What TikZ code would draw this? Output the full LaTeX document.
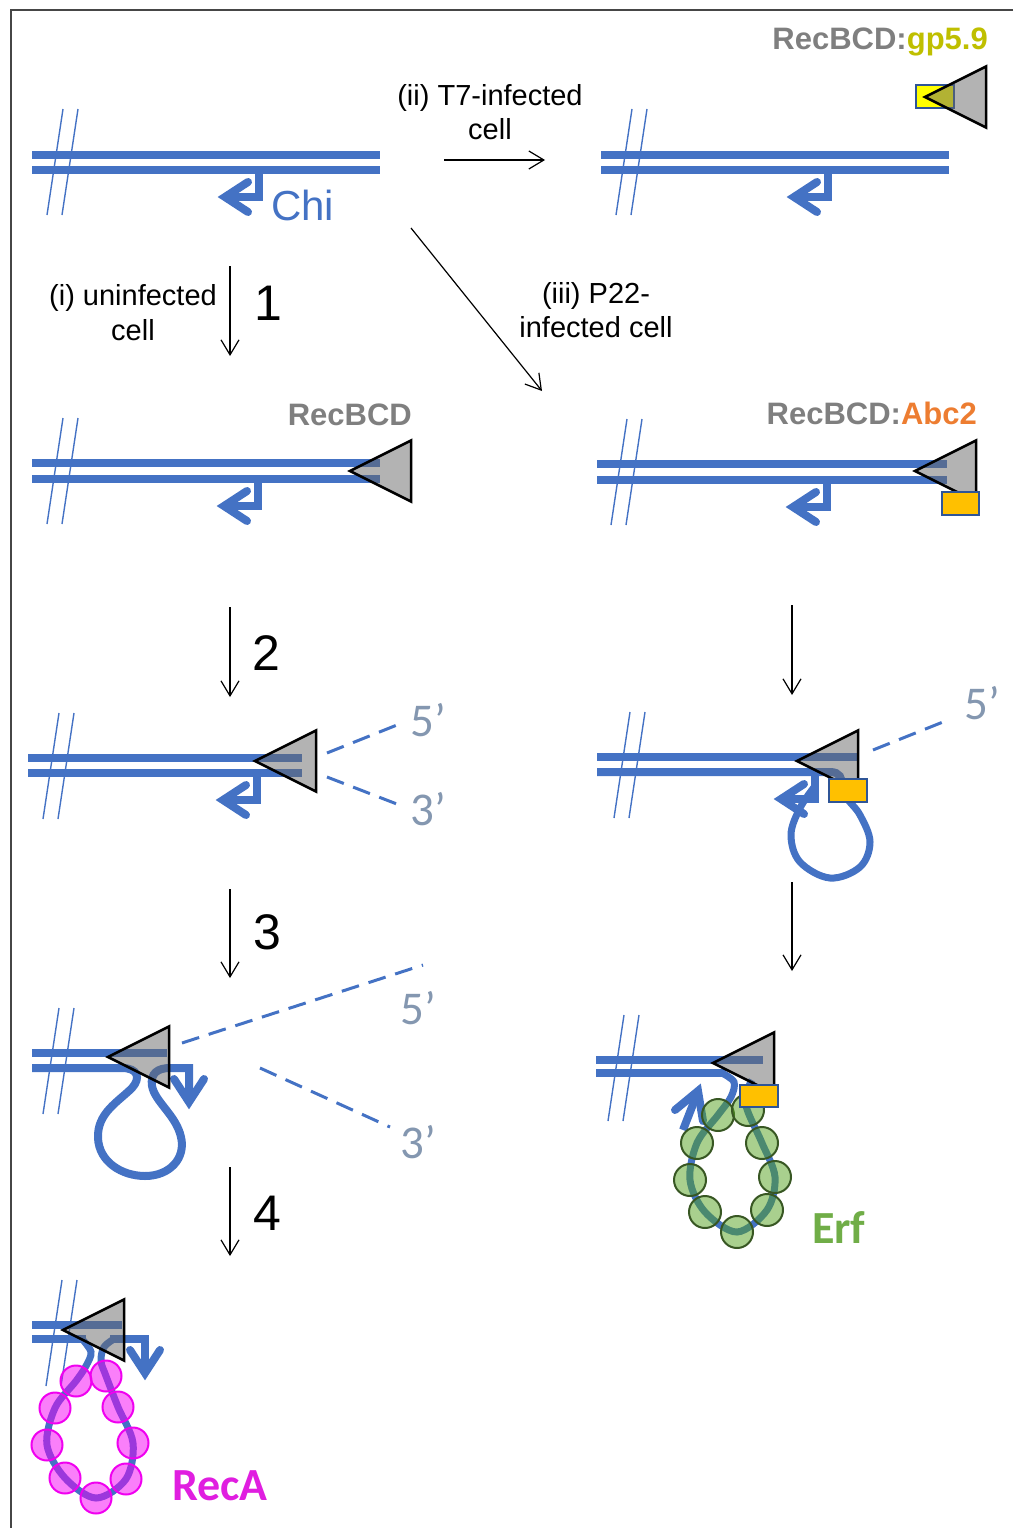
\documentclass[tikz,border=0pt]{standalone}
\usepackage{fontspec}
\setmainfont{Liberation Sans}
\newfontfamily\carlitofont{Carlito}
\usetikzlibrary{arrows.meta}
\definecolor{dnablue}{RGB}{68,114,196}
\definecolor{enzgray}{RGB}{103,103,103}
\definecolor{recgray}{RGB}{127,127,127}
\definecolor{gpolive}{RGB}{191,191,0}
\definecolor{abcorange}{RGB}{237,125,49}
\definecolor{endgray}{RGB}{132,151,176}
\definecolor{boxblue}{RGB}{47,85,151}
\definecolor{abcyellow}{RGB}{255,192,0}
\definecolor{gpyellow}{RGB}{255,255,0}
\definecolor{erffill}{RGB}{83,161,29}
\definecolor{erfedge}{RGB}{56,87,35}
\definecolor{erftext}{RGB}{112,173,71}
\definecolor{recafill}{RGB}{245,0,245}
\definecolor{recaedge}{RGB}{240,0,240}
\definecolor{recatext}{RGB}{224,30,224}
\definecolor{framegray}{RGB}{70,70,70}
\tikzset{
  strand/.style={draw=dnablue, line width=8pt},
  loopline/.style={draw=dnablue, line width=7pt},
  cutline/.style={draw=dnablue, line width=1.4pt},
  chiline/.style={draw=dnablue, line width=8pt, line join=miter},
  chihead/.style={chiline, line cap=round},
  enzyme/.style={draw=black, line width=2.5pt, fill=enzgray, fill opacity=0.5, line join=miter},
  abcbox/.style={draw=boxblue, fill=abcyellow, line width=2pt},
  gpbox/.style={draw=boxblue, fill=gpyellow, line width=2pt},
  flow/.style={draw=black, line width=1.2pt, -{Straight Barb[length=15pt,width=18pt]}},
  endline/.style={draw=dnablue, line width=3pt, dash pattern=on 18pt off 10pt},
  endlbl/.style={font=\carlitofont\fontsize{47}{47}\selectfont, text=endgray, inner sep=0pt},
  steplbl/.style={font=\fontsize{29}{34}\selectfont, inner sep=0pt, anchor=base},
  numlbl/.style={font=\fontsize{50}{50}\selectfont, inner sep=0pt, anchor=base},
  enzlbl/.style={font=\bfseries\fontsize{31}{31}\selectfont, text=recgray, inner sep=0pt, anchor=base east},
  erfball/.style={circle, minimum size=32pt, inner sep=0pt, draw=erfedge, line width=2pt, fill=erffill, fill opacity=0.5},
  recaball/.style={circle, minimum size=31pt, inner sep=0pt, draw=recaedge, line width=2pt, fill=recafill, fill opacity=0.5},
  cutmark/.pic={\draw[cutline] (0,0) -- (-16,106) (15,0) -- (-1,106);},
  chileft/.pic={\draw[chiline] (0,0) -- (0,27) -- (-33,27);
                \draw[chihead] (-11,12) -- (-34,27) -- (-11,42);},
  chidownhead/.pic={\draw[chihead] (-15,11) -- (0,34) -- (15,11);},
  recbcd/.pic={\draw[enzyme] (0,0) -- (61,-30.5) -- (61,30.5) -- cycle;},
}
\begin{document}
\begin{tikzpicture}[x=1pt,y=-1pt]
\useasboundingbox (0,0) rectangle (1013,1528);

% frame
\draw[draw=framegray, line width=1.5pt, line join=miter] (1013,10) -- (11,10) -- (11,1528);

% ---------- starting molecule ----------
\draw[strand] (32,155) -- (380,155);
\draw[strand] (32,170) -- (380,170);
\pic at (63,109) {cutmark};
\pic at (259,170) {chileft};
\node[font=\fontsize{42}{42}\selectfont, text=dnablue, inner sep=0pt, anchor=base west] (chi) at (271,220) {Chi};

% ---------- T7-infected: RecBCD:gp5.9 ----------
\draw[strand] (601,155) -- (949,155);
\draw[strand] (601,170) -- (949,170);
\pic at (632,109) {cutmark};
\pic at (828,170) {chileft};
\draw[gpbox] (916,85) rectangle (954,108);
\pic at (925,97) {recbcd};
\node[enzlbl] (gplbl) at (988,50) {RecBCD:{\color{gpolive}gp5.9}};

% ---------- uninfected: RecBCD ----------
\draw[strand] (32,463) -- (380,463);
\draw[strand] (32,479) -- (380,479);
\pic at (63,418) {cutmark};
\pic at (258,479) {chileft};
\pic at (350,471) {recbcd};
\node[enzlbl] (reclbl) at (412,425) {RecBCD};

% ---------- P22-infected: RecBCD:Abc2 ----------
\draw[strand] (597,464) -- (947,464);
\draw[strand] (597,480) -- (947,480);
\pic at (627,419) {cutmark};
\pic at (827,480) {chileft};
\pic at (915,471) {recbcd};
\draw[abcbox] (942,492) rectangle (979,515);
\node[enzlbl] (abclbl) at (977,424) {RecBCD:{\color{abcorange}Abc2}};

% ---------- step 2, uninfected ----------
\draw[strand] (28,758) -- (302,758);
\draw[strand] (28,773) -- (302,773);
\pic at (59,713) {cutmark};
\pic at (257,773) {chileft};
\pic at (255,761) {recbcd};
\coordinate (e5a) at (327,753); \coordinate (e5b) at (402,723);
\coordinate (e3a) at (327,777); \coordinate (e3b) at (402,806);
\draw[endline] (e5a) -- (e5b);
\draw[endline] (e3a) -- (e3b);
\node[endlbl, anchor=base west] (e5) at (410,736) {5’};
\node[endlbl, anchor=base west] (e3) at (410,825) {3’};

% ---------- step 2, P22-infected ----------
\draw[strand] (597,757) -- (858,757);
\draw[strand] (597,772) -- (830,772) .. controls (840,772) and (842,778) .. (842,786);
\pic at (630,712) {cutmark};
\pic at (815,772) {chileft};
\draw[loopline] plot[smooth, tension=0.6] coordinates {(815,786) (800,808) (791,835) (800,862) (830,878) (860,867) (870,842) (860,815) (847,798) (846,786)};
\pic at (797,761) {recbcd};
\draw[abcbox] (829,779) rectangle (867,802);
\coordinate (f5a) at (873,750); \coordinate (f5b) at (948,720);
\draw[endline] (f5a) -- (f5b);
\node[endlbl, anchor=base west] (f5) at (964,719) {5’};

% ---------- step 3, uninfected ----------
\draw[strand] (32,1053) -- (167,1053);
\draw[strand] (32,1068) -- (122,1068) .. controls (138,1068) and (141,1078) .. (132,1088)
   .. controls (118,1102) and (97,1113) .. (98,1138) .. controls (99,1162) and (122,1176) .. (145,1176)
   .. controls (170,1176) and (186,1158) .. (181,1137) .. controls (176,1115) and (155,1102) .. (152,1086)
   .. controls (150,1073) and (158,1068) .. (170,1068) -- (189,1068) -- (189,1098);
\pic at (189,1068) {chidownhead};
\pic at (59,1008) {cutmark};
\pic at (108,1057) {recbcd};
\coordinate (g5a) at (182,1043); \coordinate (g5b) at (423,965);
\coordinate (g3a) at (260,1068); \coordinate (g3b) at (390,1127);
\draw[endline] (g5a) -- (g5b);
\draw[endline] (g3a) -- (g3b);
\node[endlbl, anchor=base west] (g5) at (400,1024) {5’};
\node[endlbl, anchor=base west] (g3) at (400,1158) {3’};

% ---------- step 3, P22-infected: Erf ----------
\draw[strand] (596,1060) -- (763,1060);
\draw[strand] (596,1073) -- (726,1073);
\pic at (624,1015) {cutmark};
\draw[loopline] plot[smooth, tension=0.55] coordinates {(722,1073) (734,1082) (731,1097) (718,1115) (697,1143) (690,1180) (705,1212) (737,1232) (767,1210) (775,1177) (762,1143) (748,1112) (745,1096) (752,1080)};
\draw[chiline] (683,1130) -- (697,1094);
\draw[chihead] (675,1110) -- (698,1091) -- (703,1121);
\node[erfball] (erf1) at (718,1115) {};
\node[erfball] (erf2) at (748,1110) {};
\node[erfball] (erf3) at (697,1143) {};
\node[erfball] (erf4) at (762,1143) {};
\node[erfball] (erf5) at (690,1180) {};
\node[erfball] (erf6) at (775,1177) {};
\node[erfball] (erf7) at (705,1212) {};
\node[erfball] (erf8) at (767,1210) {};
\node[erfball] (erf9) at (737,1232) {};
\pic at (713,1063) {recbcd};
\draw[abcbox] (740,1085) rectangle (778,1107);
\node[font=\carlitofont\bfseries\fontsize{46}{46}\selectfont, text=erftext, inner sep=0pt, anchor=base west] (erf) at (812,1243) {Erf};

% ---------- step 4, uninfected: RecA ----------
\draw[strand] (32,1325) -- (122,1325);
\draw[strand] (32,1339) -- (86,1339);
\draw[loopline] plot[smooth, tension=0.55] coordinates {(82,1339) (91,1352) (86,1366) (76,1381) (55,1408) (47,1445) (65,1478) (96,1498) (126,1479) (133,1443) (118,1407) (106,1376) (101,1361) (104,1347) (114,1339)};
\draw[strand] (110,1339) -- (145,1339) -- (145,1370);
\pic at (145,1339) {chidownhead};
\pic at (62,1280) {cutmark};
\node[recaball] (reca1) at (76,1381) {};
\node[recaball] (reca2) at (106,1376) {};
\node[recaball] (reca3) at (55,1408) {};
\node[recaball] (reca4) at (118,1407) {};
\node[recaball] (reca5) at (47,1445) {};
\node[recaball] (reca6) at (133,1443) {};
\node[recaball] (reca7) at (65,1478) {};
\node[recaball] (reca8) at (126,1479) {};
\node[recaball] (reca9) at (96,1498) {};
\pic at (63,1330) {recbcd};
\node[font=\carlitofont\bfseries\fontsize{46}{46}\selectfont, text=recatext, inner sep=0pt, anchor=base west] (reca) at (172,1500) {RecA};

% ---------- transitions ----------
\coordinate (iis) at (444,160); \coordinate (iie) at (545,160);
\draw[flow] (iis) -- (iie);
\node[steplbl] (iia) at (490,105) {(ii) T7-infected};
\node[steplbl] (iib) at (490,139) {cell};

\coordinate (iiis) at (411,228); \coordinate (iiie) at (542,391);
\draw[flow] (iiis) -- (iiie);
\node[steplbl] (iiia) at (596,303) {(iii) P22-};
\node[steplbl] (iiib) at (596,337) {infected cell};

\coordinate (s1a) at (230,266); \coordinate (s1b) at (230,356);
\draw[flow] (s1a) -- (s1b);
\node[steplbl] (ia) at (133,305) {(i) uninfected};
\node[steplbl] (ib) at (133,340) {cell};
\node[numlbl] (n1) at (268,320) {1};

\coordinate (s2a) at (230,607); \coordinate (s2b) at (230,697);
\draw[flow] (s2a) -- (s2b);
\node[numlbl] (n2) at (266,670) {2};
\coordinate (r2a) at (792,605); \coordinate (r2b) at (792,695);
\draw[flow] (r2a) -- (r2b);

\coordinate (s3a) at (230,889); \coordinate (s3b) at (230,978);
\draw[flow] (s3a) -- (s3b);
\node[numlbl] (n3) at (267,949) {3};
\coordinate (r3a) at (792,882); \coordinate (r3b) at (792,971);
\draw[flow] (r3a) -- (r3b);

\coordinate (s4a) at (230,1167); \coordinate (s4b) at (230,1256);
\draw[flow] (s4a) -- (s4b);
\node[numlbl] (n4) at (267,1230) {4};
\end{tikzpicture}
\end{document}
